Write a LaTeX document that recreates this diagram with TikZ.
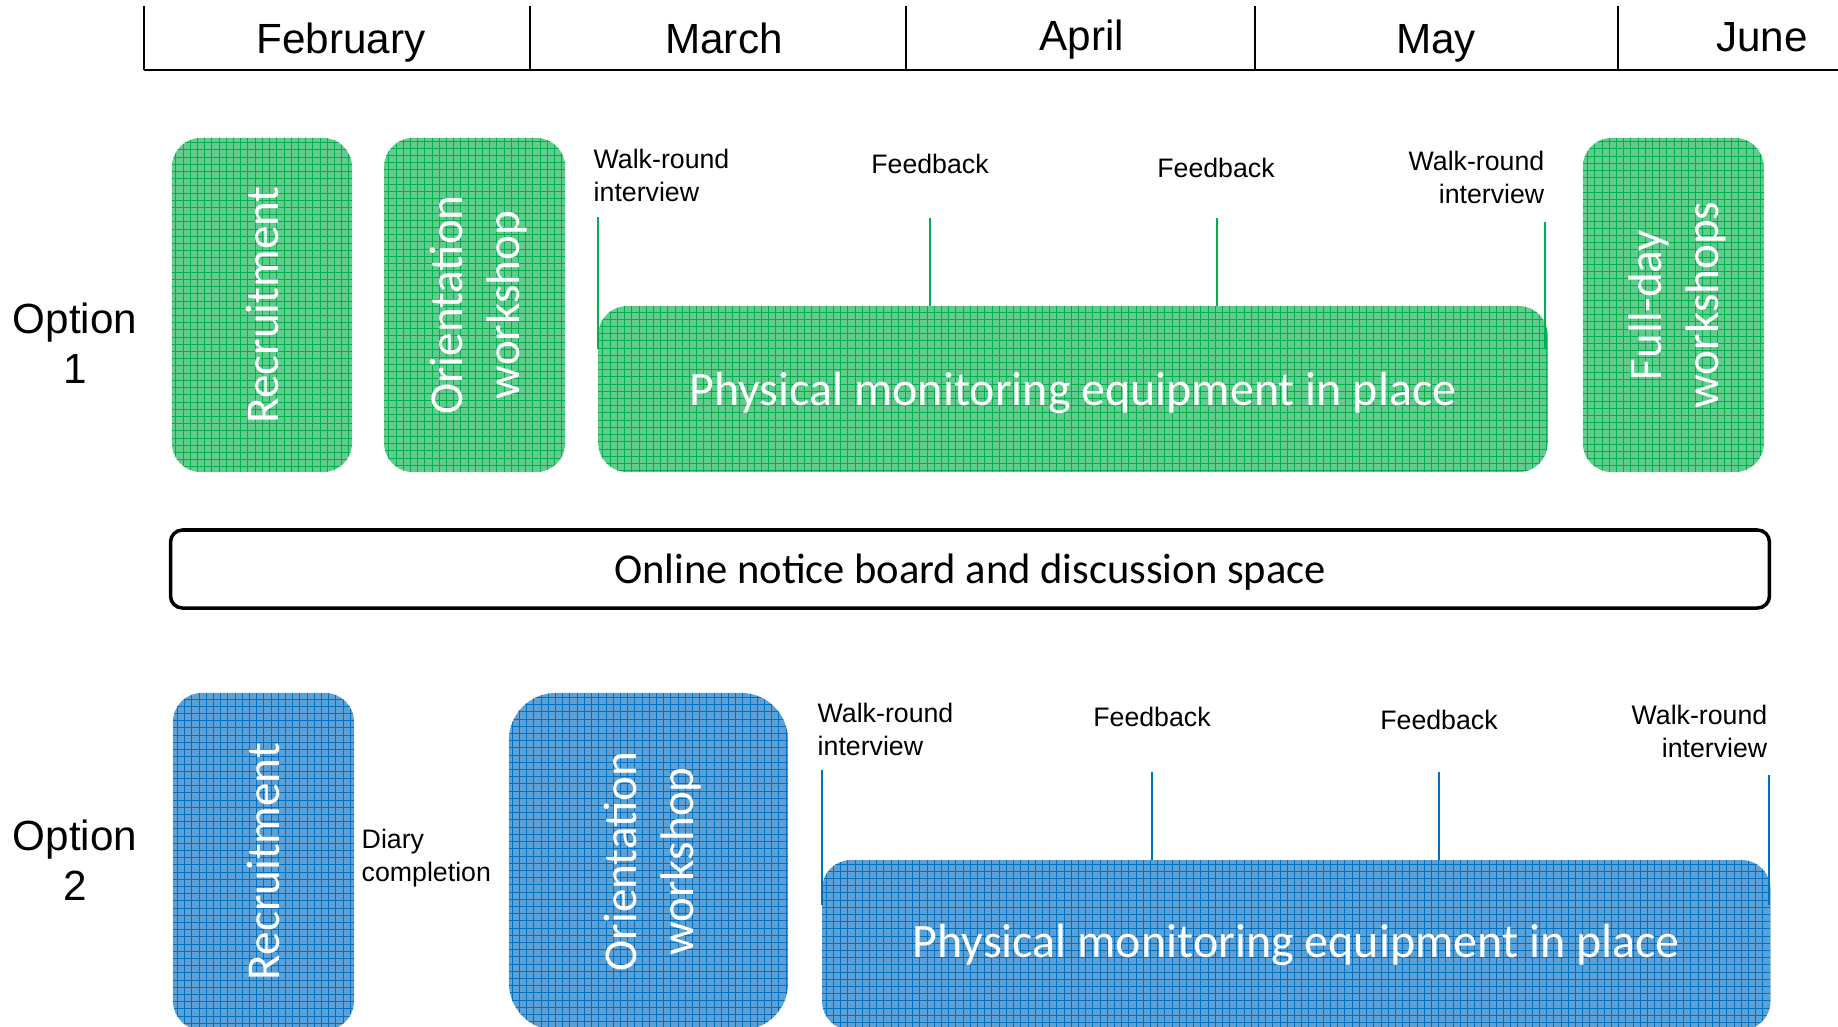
\documentclass[tikz,border=0pt]{standalone}
\usepackage{fontspec}
\setmainfont{Liberation Sans}
\newfontfamily\boxfont{Carlito}
\usepackage{graphicx}
\usetikzlibrary{positioning}

\definecolor{gfill}{RGB}{98,204,140}
\definecolor{gline}{RGB}{0,176,80}
\definecolor{bfill}{RGB}{92,160,214}
\definecolor{bline}{RGB}{0,112,192}

\newcommand{\vtext}[1]{\rotatebox{90}{\raisebox{-1.4pt}[\height][\depth]{\begin{tabular}{@{}c@{}}#1\end{tabular}}}}

\begin{document}
\begin{tikzpicture}[
    x=0.01cm, y=-0.01cm,
    month/.style={font=\fontsize{12}{14.2}\selectfont, anchor=base},
    opt/.style={font=\fontsize{12}{14.2}\selectfont, align=center},
    lbl/.style={font=\fontsize{7.6}{9.4}\selectfont, inner sep=0pt},
    act/.style={rounded corners=0.29cm, inner sep=0pt, outer sep=0pt, text=white,
        font=\boxfont\fontsize{13.4}{16.2}\selectfont, fill=#1fill,
        path picture={\draw[#1line, line width=0.25pt]
            (path picture bounding box.south west) grid[step=0.72mm]
            (path picture bounding box.north east);}},
    wide/.style={font=\boxfont\fontsize{13.65}{16.5}\selectfont},
    tickline/.style={#1line, line width=0.7pt}
]
    \useasboundingbox (0,0) rectangle (1838,1026);

    % months
    \draw[line width=0.6pt] (144,70) -- (1838,70);
    \foreach \x in {144,530,906,1255,1618}
        \draw[line width=0.5pt] (\x,6) -- (\x,70);
    \node[month] (feb) at (341,53) {February};
    \node[month] (mar) at (724,53) {March};
    \node[month] (apr) at (1082,50) {April};
    \node[month] (may) at (1436,53) {May};
    \node[month] (jun) at (1762,51) {June};

    % option 1
    \node[opt] (opt1) at (75,343) {Option\\1};
    \node[act=g, minimum width=1.80cm, minimum height=3.34cm] (rec1) at (262,305) {\vtext{Recruitment}};
    \node[act=g, minimum width=1.81cm, minimum height=3.34cm, right=0.32cm of rec1] (ori1) {\vtext{Orientation\\workshop}};
    \node[act=g, wide, minimum width=9.49cm, minimum height=1.66cm, text depth=0pt, right=0.33cm of ori1.south east, anchor=south west] (phys1) {Physical monitoring equipment in place};
    \node[act=g, minimum width=1.81cm, minimum height=3.34cm, right=0.35cm of phys1.south east, anchor=south west] (full1) {\vtext{Full-day\\workshops}};

    \node[lbl, anchor=west, align=left] (wr1) at (593,175) {Walk-round\\interview};
    \node[lbl] (fb1) at (930,164) {Feedback};
    \node[lbl] (fb2) at (1216,168) {Feedback};
    \node[lbl, anchor=east, align=right] (wr2) at (1545,177) {Walk-round\\interview};

    \coordinate (w1t) at (598,217);
    \coordinate (w1b) at (598,349);
    \coordinate (f1t) at (930,218);
    \coordinate (f2t) at (1217,218);
    \coordinate (w2t) at (1545,222);
    \coordinate (w2b) at (1545,349);
    \draw[tickline=g] (w1t) -- (w1b);
    \draw[tickline=g] (f1t) -- (f1t |- phys1.north);
    \draw[tickline=g] (f2t) -- (f2t |- phys1.north);
    \draw[tickline=g] (w2t) -- (w2b);

    % shared space
    \node[draw, line width=1pt, rounded corners=0.12cm, minimum width=15.98cm, minimum height=0.78cm, text depth=0pt,
        font=\boxfont\fontsize{12.1}{14}\selectfont] (board) at (970,569) {Online notice board and discussion space};

    % option 2
    \node[opt] (opt2) at (75,860) {Option\\2};
    \node[act=b, minimum width=1.81cm, minimum height=3.37cm] (rec2) at (263.5,861.5) {\vtext{Recruitment}};
    \node[lbl, anchor=west, align=left] (diary) at (361,858) {Diary\\completion};
    \node[act=b, rounded corners=0.47cm, minimum width=2.79cm, minimum height=3.37cm] (ori2) at (648.5,861.5) {\vtext{Orientation\\workshop}};
    \node[act=b, wide, minimum width=9.48cm, minimum height=1.70cm, anchor=north west] (phys2) at (822,860) {Physical monitoring equipment in place};

    \node[lbl, anchor=west, align=left] (wr3) at (817,729) {Walk-round\\interview};
    \node[lbl] (fb3) at (1152,717) {Feedback};
    \node[lbl] (fb4) at (1439,720) {Feedback};
    \node[lbl, anchor=east, align=right] (wr4) at (1768,731.5) {Walk-round\\interview};

    \coordinate (w3t) at (822,770);
    \coordinate (w3b) at (822,905);
    \coordinate (f3t) at (1152,772);
    \coordinate (f4t) at (1439,772);
    \coordinate (w4t) at (1769,775);
    \coordinate (w4b) at (1769,905);
    \draw[tickline=b] (w3t) -- (w3b);
    \draw[tickline=b] (f3t) -- (f3t |- phys2.north);
    \draw[tickline=b] (f4t) -- (f4t |- phys2.north);
    \draw[tickline=b] (w4t) -- (w4b);
\end{tikzpicture}
\end{document}
